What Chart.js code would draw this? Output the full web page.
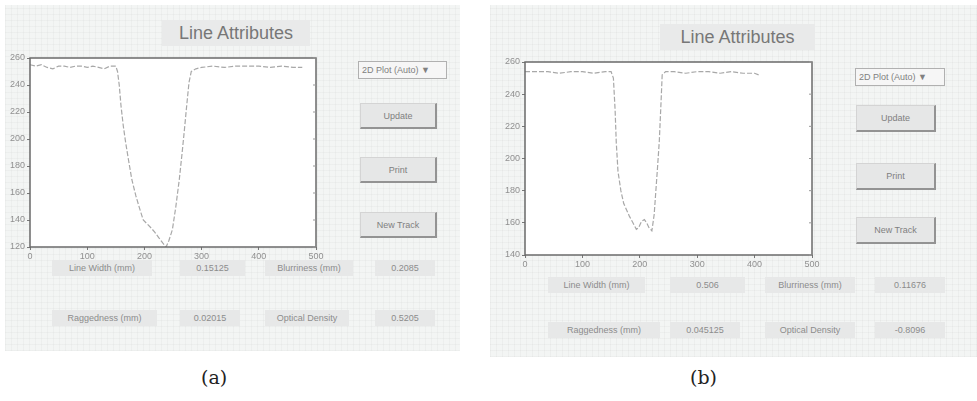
<!DOCTYPE html>
<html><head><meta charset="utf-8">
<script src="https://cdn.jsdelivr.net/npm/chart.js@4"></script>
<style>
html,body{margin:0;padding:0;background:#fff;width:977px;height:401px;overflow:hidden;font-family:Arial,"Liberation Sans",sans-serif;}
.panel{position:absolute;background-color:#f3f5f4;
 background-image:repeating-linear-gradient(0deg,rgba(0,0,0,0.028) 0 1px,transparent 1px 6px),repeating-linear-gradient(90deg,rgba(0,0,0,0.028) 0 1px,transparent 1px 6px);}
.title{position:absolute;background:#e9eaea;color:#777;font-size:18px;text-align:center;line-height:26px;}
.btn{position:absolute;background:#e6e7e7;border:1px solid #d4d4d4;border-right:2px solid #939393;border-bottom:2px solid #939393;color:#808080;font-size:9px;text-align:center;box-sizing:border-box;}
.dd{position:absolute;background:#f6f6f6;border:1px solid #b0b0b0;color:#808080;font-size:9px;line-height:16px;padding-left:3px;box-sizing:border-box;}
.lab{position:absolute;background:#e7e8e8;color:#8c8c8c;font-size:9px;text-align:center;line-height:16px;}
.cap{position:absolute;font-family:"DejaVu Serif","Liberation Serif",serif;font-size:19px;color:#222;}
canvas{position:absolute;}
</style></head><body>
<div class="panel" style="left:5px;top:5px;width:455px;height:346px"></div>
<div class="panel" style="left:490px;top:5px;width:487px;height:352px"></div>

<div class="title" style="left:162px;top:20px;width:148px;height:26px">Line Attributes</div>
<div class="title" style="left:660px;top:24px;width:155px;height:26px">Line Attributes</div>

<div class="dd" style="left:358px;top:61px;width:89px;height:18px">2D Plot (Auto) ▼</div>
<div class="btn" style="left:360px;top:103px;width:77px;height:26px;line-height:24px">Update</div>
<div class="btn" style="left:360px;top:157px;width:77px;height:26px;line-height:24px">Print</div>
<div class="btn" style="left:360px;top:212px;width:77px;height:26px;line-height:24px">New Track</div>

<div class="dd" style="left:855px;top:68px;width:90px;height:18px">2D Plot (Auto) ▼</div>
<div class="btn" style="left:856px;top:105px;width:80px;height:27px;line-height:25px">Update</div>
<div class="btn" style="left:856px;top:163px;width:80px;height:27px;line-height:25px">Print</div>
<div class="btn" style="left:856px;top:217px;width:80px;height:27px;line-height:25px">New Track</div>

<div class="lab" style="left:52px;top:260px;width:100px">Line Width (mm)</div>
<div class="lab" style="left:180px;top:260px;width:65px">0.15125</div>
<div class="lab" style="left:265px;top:260px;width:88px">Blurriness (mm)</div>
<div class="lab" style="left:375px;top:260px;width:60px">0.2085</div>
<div class="lab" style="left:52px;top:310px;width:105px">Raggedness (mm)</div>
<div class="lab" style="left:180px;top:310px;width:60px">0.02015</div>
<div class="lab" style="left:265px;top:310px;width:84px">Optical Density</div>
<div class="lab" style="left:375px;top:310px;width:60px">0.5205</div>

<div class="lab" style="left:548px;top:277px;width:97px">Line Width (mm)</div>
<div class="lab" style="left:670px;top:277px;width:75px">0.506</div>
<div class="lab" style="left:765px;top:277px;width:90px">Blurriness (mm)</div>
<div class="lab" style="left:875px;top:277px;width:70px">0.11676</div>
<div class="lab" style="left:548px;top:322px;width:112px">Raggedness (mm)</div>
<div class="lab" style="left:670px;top:322px;width:70px">0.045125</div>
<div class="lab" style="left:765px;top:322px;width:90px">Optical Density</div>
<div class="lab" style="left:875px;top:322px;width:70px">-0.8096</div>

<div class="cap" style="left:201px;top:366px">(a)</div>
<div class="cap" style="left:690px;top:366px">(b)</div>

<canvas id="ca" style="left:0px;top:48px" width="330" height="219"></canvas>
<canvas id="cb" style="left:495px;top:52px" width="331" height="223"></canvas>

<script>
// Panel (a) profile
const posA = [0,10,20,30,40,50,60,70,80,90,100,110,120,130,140,150,153,156,159,163,167,172,178,185,192,198,205,212,218,225,232,238,243,249,255,261,266,270,274,278,282,290,300,320,340,360,380,400,420,440,460,476];
const valA = [255,254,255,253,252,254,254,253,254,254,253,254,253,252,254,254,250,240,225,210,198,185,170,158,148,140,137,134,131,127,123,120,125,133,150,170,190,207,225,242,250,252,253,254,253,254,254,254,253,254,253,253];
// Panel (b) profile
const posB = [0,20,40,60,80,100,120,140,150,154,157,159,162,167,172,177,182,188,194,198,203,208,212,216,221,225,228,231,234,237,239,245,260,280,300,320,340,360,380,400,407];
const valB = [254,254,254,253,254,254,253,254,254,250,230,210,192,180,172,168,164,160,156,157,161,162,160,157,155,165,180,195,211,235,252,254,254,253,254,254,253,254,253,253,252];
const xTicks = [0,100,200,300,400,500];
const yTicksA = [120,140,160,180,200,220,240,260];
const yTicksB = [140,160,180,200,220,240,260];

const frame = {
  id:'frame',
  beforeDraw(c){const a=c.chartArea,x=c.ctx;x.save();x.fillStyle='#fff';x.fillRect(a.left,a.top,a.right-a.left,a.bottom-a.top);x.restore();},
  afterDraw(c){const a=c.chartArea,x=c.ctx,ys=c.scales.y;x.save();x.strokeStyle='#6a6a6a';x.lineWidth=1.5;x.strokeRect(a.left,a.top,a.right-a.left,a.bottom-a.top);
    x.lineWidth=1;x.strokeStyle='#999';
    ys.ticks.forEach(t=>{const p=ys.getPixelForValue(t.value);x.beginPath();x.moveTo(a.right-3,p);x.lineTo(a.right,p);x.stroke();});
    x.restore();}
};

function make(id,pos,val,ymin,ymax,yt){
  new Chart(document.getElementById(id),{
    type:'line',
    data:{datasets:[{data:pos.map((p,i)=>({x:p,y:val[i]})),borderColor:'#a8a8a8',borderWidth:1.2,borderDash:[5,2],pointRadius:0,tension:0}]},
    options:{
      responsive:false,animation:false,
      layout:{padding:{top:10,right:14,left:0,bottom:0}},
      plugins:{legend:{display:false},tooltip:{enabled:false}},
      scales:{
        x:{type:'linear',min:0,max:500,
          afterBuildTicks(s){s.ticks=xTicks.map(v=>({value:v}));},
          afterFit(s){s.height=20;},
          grid:{drawOnChartArea:false,tickLength:3,color:'#777'},border:{display:false},
          ticks:{color:'#909090',font:{size:9},padding:1,maxRotation:0}},
        y:{type:'linear',min:ymin,max:ymax,
          afterBuildTicks(s){s.ticks=yt.map(v=>({value:v}));},
          afterFit(s){s.width=30;},
          grid:{drawOnChartArea:false,tickLength:3,color:'#777'},border:{display:false},
          ticks:{color:'#909090',font:{size:9},padding:2}}
      }
    },
    plugins:[frame]
  });
}
make('ca',posA,valA,120,260,yTicksA);
make('cb',posB,valB,140,260,yTicksB);
</script>
</body></html>
